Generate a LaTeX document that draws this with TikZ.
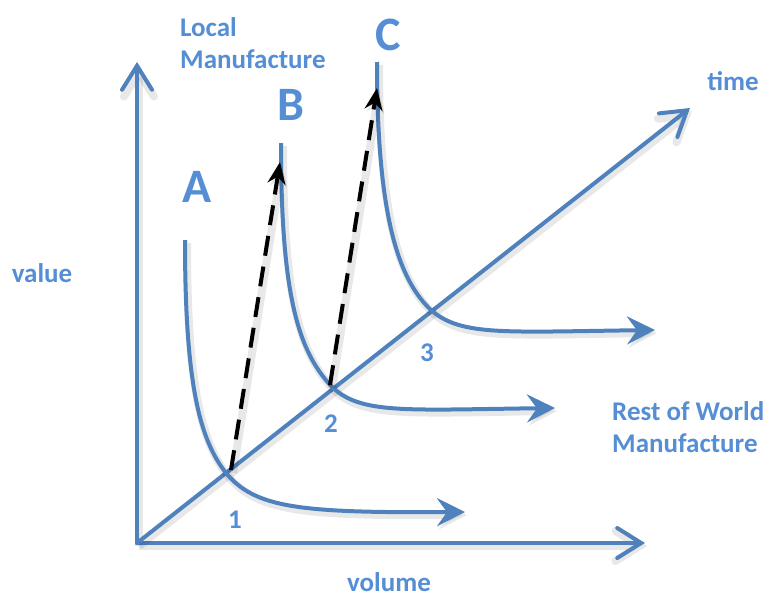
\documentclass[tikz,border=0pt]{standalone}
\usepackage{fontspec}
\setmainfont{Carlito}
\usetikzlibrary{arrows.meta}
\definecolor{axisblue}{HTML}{4F81BD}
\definecolor{labelblue}{HTML}{558ED5}
\begin{document}
\begin{tikzpicture}[x=1pt,y=-1pt,
  shade/.style={preaction={draw=black,opacity=0.09,line width=8pt,transform canvas={shift={(2pt,-3pt)}}}},
  mainaxis/.style={shade,draw=axisblue,line width=4pt,line cap=round,-{Straight Barb[length=24pt,width=30pt,line cap=round]}},
  supply/.style={shade,draw=axisblue,line width=4pt,-{Stealth[length=28pt,width=28pt,inset=10pt]}},
  jump/.style={shade,draw=black,line width=4pt,dash pattern=on 20pt off 11pt,-{Stealth[length=22pt,width=18pt]}},
  lbl/.style={text=labelblue,inner sep=0pt,font=\bfseries\fontsize{27}{32}\selectfont,align=left},
  curvename/.style={text=labelblue,inner sep=0pt,font=\bfseries\fontsize{48}{48}\selectfont}]
\useasboundingbox (0,0) rectangle (765,597);
% axes
\coordinate (O) at (137,543);
\coordinate (valtip) at (137,62);
\coordinate (voltip) at (645,543);
\coordinate (timetip) at (690,108);
\path[mainaxis] (O) -- (valtip);
\path[mainaxis] (O) -- (voltip);
\path[mainaxis] (O) -- (timetip);
% curves
\coordinate (A0) at (185,240);
\coordinate (X1) at (226,473);
\coordinate (A1) at (465,512);
\coordinate (B0) at (281,143);
\coordinate (X2) at (333,388);
\coordinate (B1) at (555,408);
\coordinate (C0) at (377,62);
\coordinate (X3) at (432,311);
\coordinate (C1) at (655,330);
\path[supply] (A0) .. controls (185,385) and (200,440) .. (X1)
  .. controls (255,508) and (300,513) .. (A1);
\path[supply] (B0) .. controls (281,295) and (298,352) .. (X2)
  .. controls (362,414) and (405,410) .. (B1);
\path[supply] (C0) .. controls (377,215) and (398,280) .. (X3)
  .. controls (462,336) and (505,332) .. (C1);
% shifts
\coordinate (D1) at (231,470);
\coordinate (E1) at (280,162);
\coordinate (D2) at (330,385);
\coordinate (E2) at (377,88);
\path[jump] (D1) -- (E1);
\path[jump] (D2) -- (E2);
% labels
\node[lbl,anchor=north west] (local) at (180,17) {Local\\Manufacture};
\node[lbl,anchor=north west] (rest) at (612,401) {Rest of World\\Manufacture};
\node[lbl,anchor=base] (value) at (42,282) {value};
\node[lbl,anchor=base] (time) at (733,90) {time};
\node[lbl,anchor=base] (volume) at (389,591) {volume};
\node[curvename,anchor=base] (A) at (197,202) {A};
\node[curvename,anchor=base] (B) at (291,120) {B};
\node[curvename,anchor=base] (C) at (388,50) {C};
\node[lbl,anchor=base] (n1) at (235,528) {1};
\node[lbl,anchor=base] (n2) at (331,432) {2};
\node[lbl,anchor=base] (n3) at (427,361) {3};
\end{tikzpicture}
\end{document}
